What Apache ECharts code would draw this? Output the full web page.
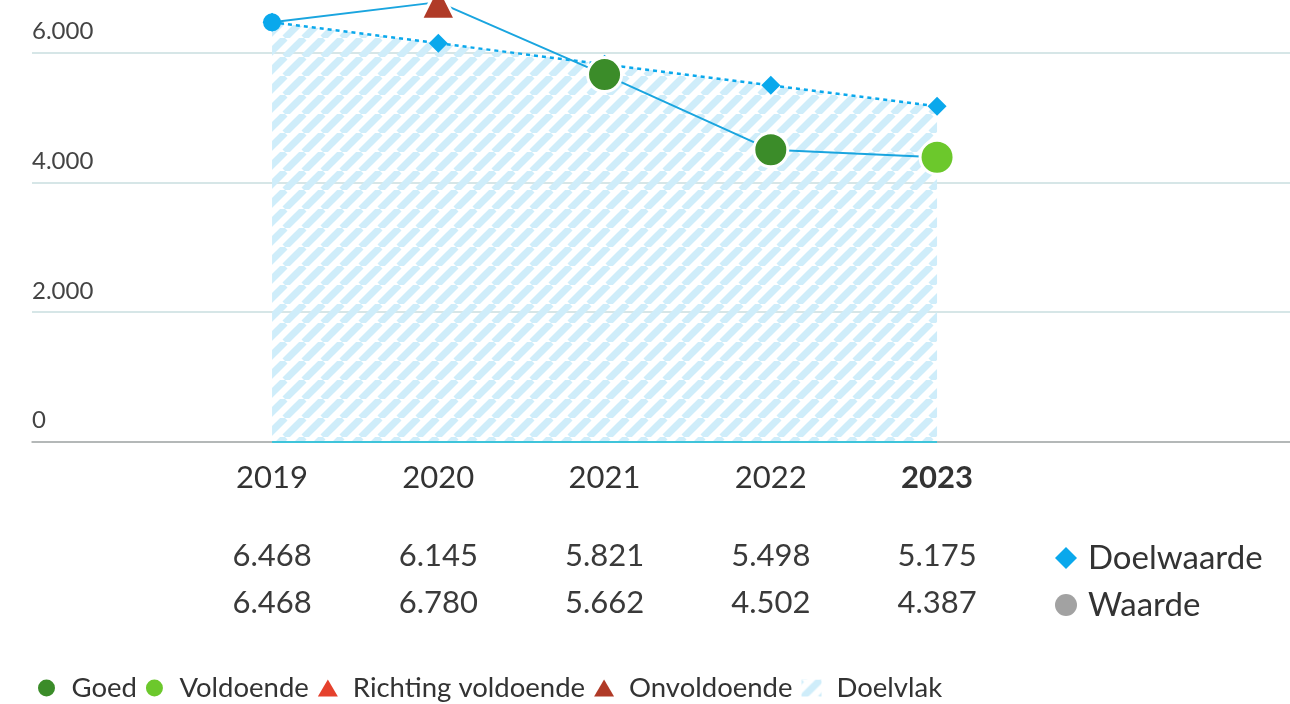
<!DOCTYPE html>
<html>
<head>
<meta charset="utf-8">
<script src="https://cdn.jsdelivr.net/npm/echarts@6/dist/echarts.min.js"></script>
<style>
    html, body { margin: 0; padding: 0; background: #fff; }
    #chart { width: 1290px; height: 704px; }
</style>
</head>
<body>
<div id="chart"></div>
<script>
// gegevens
var jaren = [2019, 2020, 2021, 2022, 2023];
var doelwaarde = [6468, 6145, 5821, 5498, 5175];
var waarde = [6468, 6780, 5662, 4502, 4387];
// beoordeling per jaar
var oordeel = ['geen', 'onvoldoende', 'goed', 'goed', 'voldoende'];
var yTicks = [0, 2000, 4000, 6000];

// kleuren en symbolen per beoordeling
var stijl = {
    geen: { symbol: 'circle', size: 18, color: '#0aa8ec' },
    goed: { symbol: 'circle', size: 34, color: '#3b8c29' },
    voldoende: { symbol: 'circle', size: 34, color: '#6cc82c' },
    richting: { symbol: 'triangle', size: 34, color: '#e5412d' },
    onvoldoende: { symbol: 'triangle', size: 34, color: '#b03a27' }
};

var font = 'Lato';

function nl(n) {
    return String(n).replace(/\B(?=(\d{3})+(?!\d))/g, '.');
}

// gearceerd patroon voor het doelvlak
var s = 19;
var tegel = document.createElement('canvas');
tegel.width = s;
tegel.height = s;
var ctx = tegel.getContext('2d');
ctx.strokeStyle = '#cfedfa';
ctx.lineWidth = 7;
[-s, 0, s].forEach(function (k) {
    ctx.beginPath();
    ctx.moveTo(k, s);
    ctx.lineTo(k + s, 0);
    ctx.stroke();
});
var arcering = { image: tegel, repeat: 'repeat' };

var chart = echarts.init(document.getElementById('chart'));

var doelData = jaren.map(function (j, i) { return [j, doelwaarde[i]]; });
var waardeData = jaren.map(function (j, i) {
    var st = stijl[oordeel[i]];
    return {
        value: [j, waarde[i]],
        symbol: st.symbol,
        symbolSize: st.size,
        itemStyle: { color: st.color, borderColor: '#fff', borderWidth: oordeel[i] === 'geen' ? 0 : 3 }
    };
});

var option = {
    animation: false,
    textStyle: { fontFamily: font },
    grid: { left: 32, right: 0, top: 52.7, bottom: 262.3 },
    xAxis: {
        type: 'value',
        min: 2017.556,
        max: 2025.123,
        axisLine: { show: true, lineStyle: { color: '#a9a9a9', width: 1.5 } },
        axisTick: { show: false },
        splitLine: { show: false },
        axisLabel: {
            customValues: jaren,
            margin: 18,
            formatter: function (v) {
                var i = jaren.indexOf(v);
                if (i < 0) return '';
                var y = i === jaren.length - 1 ? 'yb' : 'y';
                return '{' + y + '|' + v + '}\n{g| }\n{d|' + nl(doelwaarde[i]) + '}\n{w|' + nl(waarde[i]) + '}';
            },
            rich: {
                y: { fontFamily: font, fontSize: 31, color: '#333', lineHeight: 36 },
                yb: { fontFamily: font, fontSize: 31, color: '#333', lineHeight: 36, fontWeight: 'bold' },
                g: { fontSize: 10, lineHeight: 37 },
                d: { fontFamily: font, fontSize: 31, color: '#3a3a3a', lineHeight: 47 },
                w: { fontFamily: font, fontSize: 31, color: '#3a3a3a', lineHeight: 47 }
            }
        }
    },
    yAxis: {
        type: 'value',
        min: 0,
        max: 6000,
        interval: 2000,
        axisLine: { show: false },
        axisTick: { show: false },
        splitLine: { lineStyle: { color: '#c9dedf', width: 1.5 } },
        axisLabel: {
            inside: true,
            margin: 0,
            verticalAlign: 'bottom',
            lineHeight: 42,
            fontSize: 24,
            color: '#444',
            fontFamily: font,
            formatter: function (v) { return nl(v); }
        }
    },
    legend: [{
        left: 33,
        top: 668,
        orient: 'horizontal',
        selectedMode: false,
        itemWidth: 20,
        itemHeight: 17,
        itemGap: 9,
        textStyle: { fontFamily: font, fontSize: 27.5, color: '#333', lineHeight: 30, padding: [0, 0, 0, 10] },
        data: [
            { name: 'Goed', icon: 'circle' },
            { name: 'Voldoende', icon: 'circle' },
            { name: 'Richting voldoende', icon: 'triangle' },
            { name: 'Onvoldoende', icon: 'triangle' },
            { name: 'Doelvlak', icon: 'rect', itemStyle: { color: arcering } }
        ]
    }, {
        left: 1050,
        top: 535,
        orient: 'vertical',
        selectedMode: false,
        itemWidth: 22,
        itemHeight: 22,
        itemGap: 11,
        textStyle: { fontFamily: font, fontSize: 33, color: '#333', lineHeight: 36, padding: [0, 0, 0, 6] },
        data: [
            { name: 'Doelwaarde', icon: 'diamond', itemStyle: { color: '#0aa8ec' } },
            { name: 'Waarde', icon: 'circle', itemStyle: { color: '#a2a2a2', borderWidth: 0 } }
        ]
    }],
    series: [{
        name: 'Doelvlak',
        type: 'line',
        data: doelData,
        clip: false,
        symbol: 'none',
        lineStyle: { width: 0, opacity: 0 },
        itemStyle: { color: '#c6eaf9' },
        areaStyle: { color: arcering, opacity: 1 },
        z: 1,
        markLine: {
            silent: true,
            symbol: 'none',
            label: { show: false },
            lineStyle: { color: '#3fc4da', width: 2, type: 'solid' },
            data: [[{ coord: [jaren[0], 0] }, { coord: [jaren[jaren.length - 1], 0] }]]
        }
    }, {
        name: 'Doelwaarde',
        type: 'line',
        data: doelData,
        clip: false,
        symbol: 'diamond',
        symbolSize: 19,
        itemStyle: { color: '#0aa8ec' },
        lineStyle: { color: '#0aa8ec', width: 2.5, type: [4, 4] },
        z: 3
    }, {
        name: 'Waarde',
        type: 'line',
        data: waardeData,
        clip: false,
        itemStyle: { color: '#1aa5df' },
        lineStyle: { color: '#1aa5df', width: 2 },
        z: 4
    },
    // alleen voor de legenda
    { name: 'Goed', type: 'scatter', data: [], itemStyle: { color: stijl.goed.color, opacity: 1 } },
    { name: 'Voldoende', type: 'scatter', data: [], itemStyle: { color: stijl.voldoende.color, opacity: 1 } },
    { name: 'Richting voldoende', type: 'scatter', data: [], itemStyle: { color: stijl.richting.color, opacity: 1 } },
    { name: 'Onvoldoende', type: 'scatter', data: [], itemStyle: { color: stijl.onvoldoende.color, opacity: 1 } }
    ]
};

chart.setOption(option);
</script>
</body>
</html>
